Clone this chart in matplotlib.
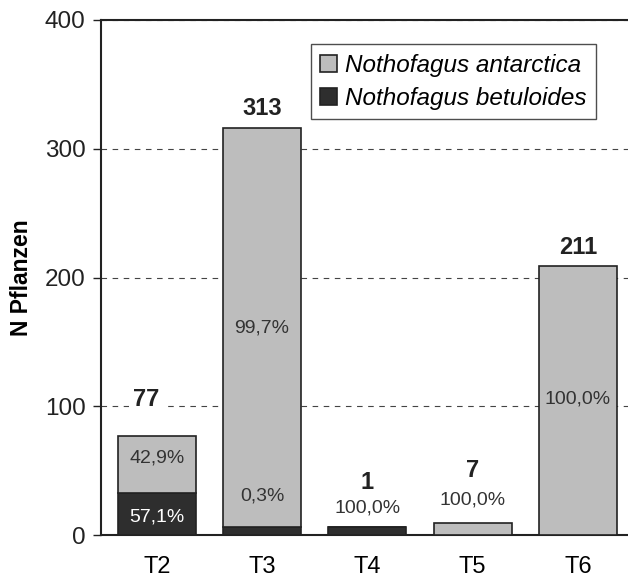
import numpy as np
import matplotlib
matplotlib.use("Agg")
import matplotlib.pyplot as plt

plt.rcParams['font.family'] = ['Liberation Sans', 'DejaVu Sans']

# data
plots = ['T2', 'T3', 'T4', 'T5', 'T6']
antarctica = [44, 310, 0, 9, 209]      # drawn height of light segment
betuloides = [33, 6, 6, 0, 0]          # drawn height of dark segment
totals = ['77', '313', '1', '7', '211']
pct_antarctica = ['42,9%', '99,7%', None, '100,0%', '100,0%']
pct_betuloides = ['57,1%', '0,3%', '100,0%', None, None]

light = '#bdbdbd'
dark = '#2e2e2e'

fig = plt.figure(figsize=(6.28, 5.8), dpi=100)
ax = fig.add_axes([101/628, 45/580, 540/628, 515/580])

x = np.arange(len(plots))
w = 0.74
ax.bar(x, betuloides, w, color=dark, edgecolor='#222222', linewidth=1.2,
       label='Nothofagus betuloides', zorder=3)
ax.bar(x, antarctica, w, bottom=betuloides, color=light, edgecolor='#222222',
       linewidth=1.2, label='Nothofagus antarctica', zorder=3)

# label placement (layout only)
tot_y = [105, 331, 41, 50, 223]
tot_dx = [-0.1, 0, 0, 0, 0]
for i, t in enumerate(totals):
    ax.text(x[i] + tot_dx[i], tot_y[i], t, ha='center', va='center',
            fontsize=17, fontweight='bold', color='#222222', zorder=4,
            bbox=dict(facecolor='white', edgecolor='none', pad=3))

pa_y = [60, 161, None, 27, 106]
pb_y = [14, 30, 21, None, None]
for i in range(len(plots)):
    if pct_antarctica[i]:
        ax.text(x[i], pa_y[i], pct_antarctica[i], ha='center', va='center',
                fontsize=14, color='#333333', zorder=4)
    if pct_betuloides[i]:
        c = 'white' if betuloides[i] > 20 else '#333333'
        ax.text(x[i], pb_y[i], pct_betuloides[i], ha='center', va='center',
                fontsize=14, color=c, zorder=4)

ax.set_xlim(-0.53, 4.6)
ax.set_ylim(0, 400)
ax.set_yticks([0, 100, 200, 300, 400])
ax.set_xticks(x)
ax.set_xticklabels(plots)
ax.tick_params(axis='x', length=0, pad=15, labelsize=17)
ax.tick_params(axis='y', length=6, width=1, labelsize=17.5, pad=5, colors='#222222')
ax.set_ylabel('N Pflanzen', fontsize=16.5, fontweight='bold')
ax.yaxis.set_label_coords(-0.125, 0.5)
ax.grid(axis='y', linestyle=(0, (5, 5)), color='#444444', linewidth=0.8, zorder=0)

for s in ['left', 'bottom', 'top']:
    ax.spines[s].set_linewidth(1.5)
    ax.spines[s].set_color('#222222')
ax.spines['right'].set_visible(False)

h, l = ax.get_legend_handles_labels()
leg = ax.legend(h[::-1], l[::-1], loc='upper left', bbox_to_anchor=(0.388, 0.953),
                prop=dict(style='italic', size=17.5), frameon=True, fancybox=False,
                edgecolor='#222222', handlelength=0.7, handleheight=0.7,
                handletextpad=0.3, borderpad=0.4, labelspacing=0.4,
                borderaxespad=0)
leg.get_frame().set_linewidth(1.0)

fig.savefig('out.png', dpi=100)
